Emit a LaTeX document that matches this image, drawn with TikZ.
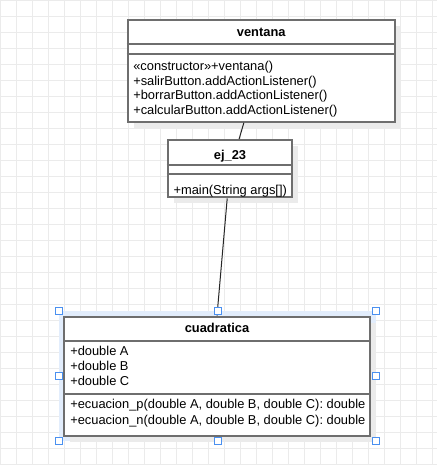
\documentclass[tikz,border=0pt]{standalone}
\usepackage{fontspec}
\setmainfont{Liberation Sans}
\usepackage{xcolor}
\usepackage{tikz}
\usetikzlibrary{shadows, calc}

\definecolor{boxgray}{RGB}{110,110,110}
\definecolor{gridgray}{RGB}{235,235,235}
\definecolor{selblue}{RGB}{74,144,240}
\definecolor{halo}{RGB}{226,237,252}

\tikzset{
    classbox/.style={draw=boxgray, line width=1.5pt, fill=white, inner sep=0pt,
        drop shadow={shadow xshift=4.5pt, shadow yshift=-4.5pt, fill=black!8, opacity=1}},
    divider/.style={draw=boxgray, line width=1.5pt},
    member/.style={anchor=base west, inner sep=0pt, font=\fontsize{9.65pt}{11pt}\selectfont},
    classname/.style={anchor=base, inner sep=0pt, font=\fontsize{9.65pt}{11pt}\selectfont\bfseries},
    assoc/.style={draw=black!85, line width=0.75pt},
    handle/.style={draw=selblue, fill=white, line width=0.75pt, minimum size=5.25pt, inner sep=0pt},
    gridline/.style={draw=gridgray, line width=0.75pt}
}

\begin{document}
\begin{tikzpicture}[x=0.75pt, y=-0.75pt]
    \useasboundingbox (0,0) rectangle (437,465);

    % Grille
    \fill[white] (0,0) rectangle (437,465);
    \foreach \i in {0,16,...,432}
        \draw[gridline] (\i,0) -- (\i,465);
    \foreach \j in {0,16,...,464}
        \draw[gridline] (0,\j) -- (437,\j);

    % Selection
    \node[fill=halo, inner sep=0pt, minimum width=237.75pt, minimum height=97.5pt] (sel) at (217.5,376) {};

    % Classes
    \node[classbox, minimum width=200.6pt, minimum height=76.3pt] (ventana) at (261.25,70.85) {};
    \node[classbox, minimum width=93.5pt, minimum height=43pt] (ej23) at (230,168.65) {};
    \node[classbox, minimum width=229.5pt, minimum height=89.25pt] (cuadratica) at (217,376.2) {};

    % Separateurs
    \draw[divider] (ventana.west |- 0,44.3) -- (ventana.east |- 0,44.3);
    \draw[divider] (ventana.west |- 0,54.3) -- (ventana.east |- 0,54.3);
    \draw[divider] (ej23.west |- 0,165) -- (ej23.east |- 0,165);
    \draw[divider] (ej23.west |- 0,174.3) -- (ej23.east |- 0,174.3);
    \draw[divider] (cuadratica.west |- 0,340.7) -- (cuadratica.east |- 0,340.7);
    \draw[divider] (cuadratica.west |- 0,394) -- (cuadratica.east |- 0,394);

    % Textes
    \node[classname] (ventana-name) at (261.25,36.7) {ventana};
    \node[member] (ventana-m1) at (133,70.7) {«constructor»+ventana()};
    \node[member] (ventana-m2) at (133,85.2) {+salirButton.addActionListener()};
    \node[member] (ventana-m3) at (133,99.8) {+borrarButton.addActionListener()};
    \node[member] (ventana-m4) at (133,114.3) {+calcularButton.addActionListener()};

    \node[classname] (ej23-name) at (230,159) {ej\_23};
    \node[member] (ej23-m1) at (173.3,194.3) {+main(String args[])};

    \node[classname] (cuadratica-name) at (217,332.3) {cuadratica};
    \node[member] (cuadratica-a1) at (70,355.3) {+double A};
    \node[member] (cuadratica-a2) at (70,370.3) {+double B};
    \node[member] (cuadratica-a3) at (70,385.3) {+double C};
    \node[member] (cuadratica-m1) at (70,408.3) {+ecuacion\_p(double A, double B, double C): double};
    \node[member] (cuadratica-m2) at (70,424) {+ecuacion\_n(double A, double B, double C): double};

    % Liens
    \draw[assoc] ($(ventana.south west)!0.4355!(ventana.south east)$) -- ($(ej23.north west)!0.572!(ej23.north east)$);
    \draw[assoc] ($(ej23.south west)!0.478!(ej23.south east)$) -- (cuadratica.north);

    % Poignees
    \foreach \a/\n in {north west/nw, north/n, north east/ne, east/e, south east/se, south/s, south west/sw, west/w}
        \node[handle] (h-\n) at (sel.\a) {};
\end{tikzpicture}
\end{document}
